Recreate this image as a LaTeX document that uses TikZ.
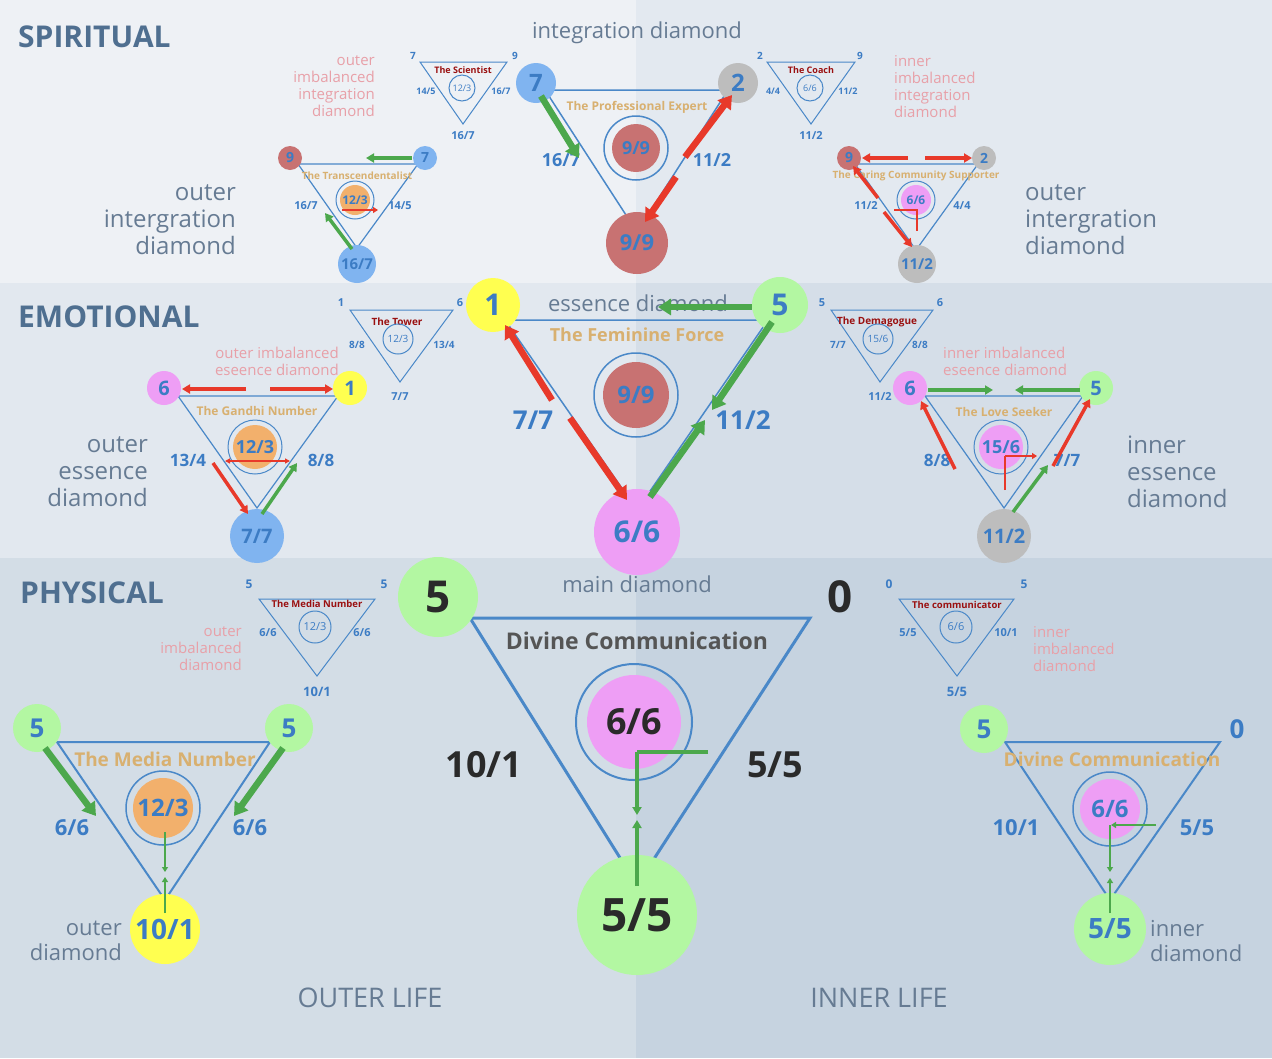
\documentclass[tikz,border=0pt]{standalone}
\usepackage{fontspec}
\setmainfont{Open Sans}
\usetikzlibrary{arrows.meta}
\definecolor{bgSa}{HTML}{EEF1F5}\definecolor{bgSb}{HTML}{E3E9F0}
\definecolor{bgEa}{HTML}{E2E8EF}\definecolor{bgEb}{HTML}{D5DEE8}
\definecolor{bgPa}{HTML}{D3DDE6}\definecolor{bgPb}{HTML}{C6D3E0}
\definecolor{tblue}{HTML}{3C7CC4}\definecolor{lblue}{HTML}{4A88C8}
\definecolor{secc}{HTML}{4F6F90}\definecolor{grayt}{HTML}{667B93}
\definecolor{pinkt}{HTML}{E8A0A8}\definecolor{tan}{HTML}{D8B070}
\definecolor{dred}{HTML}{9A1010}\definecolor{grn}{HTML}{4CA84C}
\definecolor{rd}{HTML}{E8392A}\definecolor{cgreen}{HTML}{B3F7A2}
\definecolor{cyel}{HTML}{FFFF50}\definecolor{cblue}{HTML}{80B4F0}
\definecolor{cgray}{HTML}{BDBDBD}\definecolor{cred}{HTML}{C87272}
\definecolor{cpink}{HTML}{EE9EF5}\definecolor{corange}{HTML}{F2B06C}
\definecolor{dark}{HTML}{2A2A2A}\definecolor{dgray}{HTML}{555555}
\newcommand\fsz[1]{\fontsize{#1}{#1}\selectfont}
\tikzset{
 tri/.style={draw=lblue,line width=1pt},
 btri/.style={draw=lblue,line width=2pt},
 ring/.style={draw=lblue,line width=1pt},
 dot/.style={circle,inner sep=0pt,font=\bfseries,text=tblue},
 lab/.style={text=tblue,font=\bfseries,inner sep=0pt},
 sect/.style={text=secc,font=\bfseries\fsz{30},anchor=west,inner sep=0pt},
 gtxt/.style={text=grayt,font=\fsz{24},inner sep=0pt,align=right},
 ptxt/.style={text=pinkt,font=\fsz{15},inner sep=0pt},
 ttl/.style={text=tan,font=\bfseries,inner sep=0pt},
 stl/.style={text=dred,font=\bfseries\fsz{9},inner sep=0pt},
 garr/.style={draw=grn,line width=6.5pt,-{Triangle[length=13pt,width=16pt]}},
 rarr/.style={draw=rd,line width=6.5pt,-{Triangle[length=13pt,width=16pt]}},
 gth/.style={draw=grn,line width=3.5pt,-{Triangle[length=8pt,width=9pt]}},
 rth/.style={draw=rd,line width=3.5pt,-{Triangle[length=8pt,width=9pt]}},
 gtn/.style={draw=grn,line width=2pt,-{Triangle[length=5pt,width=6pt]}},
 rtn/.style={draw=rd,line width=1.5pt,-{Triangle[length=5pt,width=6pt]}},
}
\begin{document}
\begin{tikzpicture}[x=1pt,y=-1pt]
\useasboundingbox (0,0) rectangle (1272,1058);
% backgrounds
\fill[bgSa] (0,0) rectangle (636,283); \fill[bgSb] (636,0) rectangle (1272,283);
\fill[bgEa] (0,283) rectangle (636,558); \fill[bgEb] (636,283) rectangle (1272,558);
\fill[bgPa] (0,558) rectangle (636,1058); \fill[bgPb] (636,558) rectangle (1272,1058);
% section titles
\node[sect] (sS) at (18,37) {SPIRITUAL};
\node[sect] (sE) at (18,317) {EMOTIONAL};
\node[sect] (sP) at (20,593) {PHYSICAL};
\node[text=grayt,font=\fsz{27}] (ol) at (370,998) {OUTER LIFE};
\node[text=grayt,font=\fsz{27}] (il) at (879,998) {INNER LIFE};

% ===== SPIRITUAL main =====
\node[text=grayt,font=\fsz{22}] (t1) at (637,33) {integration diamond};
\draw[tri,line width=1.5pt] (545,90) -- (728,90) -- (637,232) -- cycle;
\node[ttl,font=\bfseries\fsz{12}] (t2) at (637,107) {The Professional Expert};
\node[dot,fill=cred,minimum size=48pt] (s99) at (636,148) {}; \node[lab,font=\bfseries\fsz{18}] at (s99) {9/9};
\draw[ring,line width=1.5pt] (636,148) circle (32);
\node[dot,fill=cblue,minimum size=40pt,font=\bfseries\fsz{24}] (s7) at (536,83) {7};
\node[dot,fill=cgray,minimum size=40pt,font=\bfseries\fsz{24}] (s2) at (738,83) {2};
\node[dot,fill=cred,minimum size=62pt,font=\bfseries\fsz{22}] (sb) at (637,243) {9/9};
\node[lab,font=\bfseries\fsz{18}] (l1) at (561,160) {16/7};
\node[lab,font=\bfseries\fsz{18}] (l2) at (712,160) {11/2};
\draw[garr] (541,96) -- (579,158);
\draw[rarr] (685,157) -- (732,95);
\draw[rarr] (676,177) -- (645,222);

% Scientist
\draw[tri] (420,62) -- (507,62) -- (463,124) -- cycle;
\node[lab,font=\bfseries\fsz{10}] (a1) at (413,56) {7}; \node[lab,font=\bfseries\fsz{10}] (a2) at (515,56) {9};
\node[lab,font=\bfseries\fsz{9}] (a3) at (426,91) {14/5}; \node[lab,font=\bfseries\fsz{9}] (a4) at (501,91) {16/7};
\node[lab,font=\bfseries\fsz{11}] (a5) at (463,136) {16/7};
\node[stl] (a6) at (463,70) {The Scientist};
\draw[ring] (462,88) circle (13); \node[lab,font=\fsz{9}] (a7) at (462,88) {12/3};
% Coach
\draw[tri] (767,62) -- (855,62) -- (811,124) -- cycle;
\node[lab,font=\bfseries\fsz{10}] (b1) at (760,56) {2}; \node[lab,font=\bfseries\fsz{10}] (b2) at (860,56) {9};
\node[lab,font=\bfseries\fsz{9}] (b3) at (773,91) {4/4}; \node[lab,font=\bfseries\fsz{9}] (b4) at (848,91) {11/2};
\node[lab,font=\bfseries\fsz{11}] (b5) at (811,136) {11/2};
\node[stl] (b6) at (811,70) {The Coach};
\draw[ring] (810,88) circle (13); \node[lab,font=\fsz{9}] (b7) at (810,88) {6/6};
% pink texts spiritual
\node[ptxt,align=right,anchor=north east] (p1) at (375,55) {outer\\[2pt]imbalanced\\[2pt]integration\\[2pt]diamond};
\node[ptxt,align=left,anchor=north west] (p2) at (894,55) {inner\\[2pt]imbalanced\\[2pt]integration\\[2pt]diamond};
\node[gtxt,align=right,anchor=east] (g1) at (236,220) {outer\\[3pt]intergration\\[3pt]diamond};
\node[gtxt,align=left,anchor=west] (g2) at (1025,220) {outer\\[3pt]intergration\\[3pt]diamond};

% Transcendentalist
\draw[tri,line width=1.2pt] (298,164) -- (418,164) -- (357,248) -- cycle;
\node[dot,fill=corange,minimum size=30pt] (c1) at (355,200) {}; \node[lab,font=\bfseries\fsz{12}] at (c1) {12/3};
\draw[ring] (355,200) circle (19);
\node[ttl,font=\bfseries\fsz{10}] (c2) at (357,176) {The Transcendentalist};
\node[dot,fill=cred,minimum size=24pt,font=\bfseries\fsz{14}] (c3) at (290,158) {9};
\node[dot,fill=cblue,minimum size=24pt,font=\bfseries\fsz{14}] (c4) at (425,158) {7};
\node[dot,fill=cblue,minimum size=38pt,font=\bfseries\fsz{15}] (c5) at (357,264) {16/7};
\node[lab,font=\bfseries\fsz{11}] (c6) at (306,206) {16/7}; \node[lab,font=\bfseries\fsz{11}] (c7) at (400,206) {14/5};
\draw[gth] (412,158) -- (366,158);
\draw[gth] (352,249) -- (325,213);
\draw[rtn] (342,210) -- (378,210);
% Caring community supporter
\draw[tri,line width=1.2pt] (855,164) -- (978,164) -- (916,250) -- cycle;
\node[dot,fill=cpink,minimum size=30pt] (d1) at (916,200) {}; \node[lab,font=\bfseries\fsz{12}] at (d1) {6/6};
\draw[ring] (916,200) circle (19);
\node[ttl,font=\bfseries\fsz{10}] (d2) at (916,176) {The Caring Community Supporter};
\node[dot,fill=cred,minimum size=24pt,font=\bfseries\fsz{14}] (d3) at (849,158) {9};
\node[dot,fill=cgray,minimum size=24pt,font=\bfseries\fsz{14}] (d4) at (984,158) {2};
\node[dot,fill=cgray,minimum size=38pt,font=\bfseries\fsz{15}] (d5) at (917,264) {11/2};
\node[lab,font=\bfseries\fsz{11}] (d6) at (866,206) {11/2}; \node[lab,font=\bfseries\fsz{11}] (d7) at (962,206) {4/4};
\draw[rth] (908,158) -- (862,158); \draw[rth] (925,158) -- (972,158);
\draw[rth] (878,198) -- (853,166); \draw[rth] (884,212) -- (912,247);
\draw[draw=rd,line width=1.5pt] (894,210) -- (917,210) -- (917,231);

% ===== EMOTIONAL main =====
\draw[tri,line width=1.5pt] (505,320) -- (768,320) -- (637,510) -- cycle;
\node[text=grayt,font=\fsz{22}] (e1) at (638,303) {essence diamond};
\node[ttl,font=\bfseries\fsz{18}] (e2) at (637,335) {The Feminine Force};
\node[dot,fill=cred,minimum size=66pt] (e3) at (636,395) {}; \node[lab,font=\bfseries\fsz{24}] at (e3) {9/9};
\draw[ring,line width=1.5pt] (636,395) circle (42);
\node[dot,fill=cyel,minimum size=54pt,font=\bfseries\fsz{30}] (e4) at (493,305) {1};
\node[dot,fill=cgreen,minimum size=56pt,font=\bfseries\fsz{30}] (e5) at (780,305) {5};
\node[dot,fill=cpink,minimum size=86pt,font=\bfseries\fsz{30}] (e6) at (637,532) {6/6};
\node[lab,font=\bfseries\fsz{26}] (e7) at (533,420) {7/7};
\node[lab,font=\bfseries\fsz{26}] (e8) at (743,420) {11/2};
\draw[garr] (752,307) -- (658,307);
\draw[rarr] (552,400) -- (505,325);
\draw[rarr] (570,418) -- (627,500);
\draw[garr] (772,322) -- (712,410);
\draw[garr] (650,497) -- (705,420);
% Tower
\draw[tri] (350,310) -- (453,310) -- (400,382) -- cycle;
\node[lab,font=\bfseries\fsz{11}] (f1) at (341,303) {1}; \node[lab,font=\bfseries\fsz{11}] (f2) at (460,303) {6};
\node[lab,font=\bfseries\fsz{10}] (f3) at (357,345) {8/8}; \node[lab,font=\bfseries\fsz{10}] (f4) at (444,345) {13/4};
\node[lab,font=\bfseries\fsz{11}] (f5) at (400,397) {7/7};
\node[stl,font=\bfseries\fsz{10}] (f6) at (397,322) {The Tower};
\draw[ring] (398,339) circle (15); \node[lab,font=\fsz{10}] (f7) at (398,339) {12/3};
% Demagogue
\draw[tri] (831,310) -- (933,310) -- (880,382) -- cycle;
\node[lab,font=\bfseries\fsz{11}] (h1) at (822,303) {5}; \node[lab,font=\bfseries\fsz{11}] (h2) at (940,303) {6};
\node[lab,font=\bfseries\fsz{10}] (h3) at (838,345) {7/7}; \node[lab,font=\bfseries\fsz{10}] (h4) at (920,345) {8/8};
\node[lab,font=\bfseries\fsz{11}] (h5) at (880,397) {11/2};
\node[stl,font=\bfseries\fsz{10}] (h6) at (877,322) {The Demagogue};
\draw[ring] (878,339) circle (15); \node[lab,font=\fsz{10}] (h7) at (878,339) {15/6};
% pink / gray emotional
\node[ptxt,align=right,anchor=east] (p3) at (339,361) {outer imbalanced\\[2pt]eseence diamond};
\node[ptxt,align=left,anchor=west] (p4) at (943,361) {inner imbalanced\\[2pt]eseence diamond};
\node[gtxt,align=right,anchor=east] (g3) at (148,472) {outer\\[3pt]essence\\[3pt]diamond};
\node[gtxt,align=left,anchor=west] (g4) at (1127,472) {inner\\[3pt]essence\\[3pt]diamond};
% Gandhi
\draw[tri,line width=1.2pt] (178,396) -- (338,396) -- (257,508) -- cycle;
\node[dot,fill=corange,minimum size=44pt] (i1) at (255,447) {}; \node[lab,font=\bfseries\fsz{18}] at (i1) {12/3};
\draw[ring] (255,447) circle (27);
\node[ttl,font=\bfseries\fsz{12}] (i2) at (257,411) {The Gandhi Number};
\node[dot,fill=cpink,minimum size=34pt,font=\bfseries\fsz{20}] (i3) at (164,388) {6};
\node[dot,fill=cyel,minimum size=34pt,font=\bfseries\fsz{20}] (i4) at (350,388) {1};
\node[dot,fill=cblue,minimum size=54pt,font=\bfseries\fsz{20}] (i5) at (257,536) {7/7};
\node[lab,font=\bfseries\fsz{17}] (i6) at (188,460) {13/4}; \node[lab,font=\bfseries\fsz{17}] (i7) at (321,460) {8/8};
\draw[rth] (246,389) -- (182,389); \draw[rth] (270,389) -- (333,389);
\draw[draw=rd,line width=1.5pt,{Triangle[length=5pt,width=5pt]}-{Triangle[length=5pt,width=5pt]}] (225,461) -- (290,461);
\draw[rth] (213,463) -- (248,514);
\draw[gth] (262,514) -- (297,463);
% Love Seeker
\draw[tri,line width=1.2pt] (925,396) -- (1083,396) -- (1004,508) -- cycle;
\node[dot,fill=cpink,minimum size=44pt] (j1) at (1001,447) {}; \node[lab,font=\bfseries\fsz{18}] at (j1) {15/6};
\draw[ring] (1001,447) circle (27);
\node[ttl,font=\bfseries\fsz{12}] (j2) at (1004,412) {The Love Seeker};
\node[dot,fill=cpink,minimum size=34pt,font=\bfseries\fsz{20}] (j3) at (910,388) {6};
\node[dot,fill=cgreen,minimum size=34pt,font=\bfseries\fsz{20}] (j4) at (1096,388) {5};
\node[dot,fill=cgray,minimum size=54pt,font=\bfseries\fsz{20}] (j5) at (1004,536) {11/2};
\node[lab,font=\bfseries\fsz{17}] (j6) at (937,460) {8/8}; \node[lab,font=\bfseries\fsz{17}] (j7) at (1067,460) {7/7};
\draw[gth] (928,390) -- (993,390); \draw[gth] (1080,390) -- (1015,390);
\draw[rth] (955,469) -- (921,401);
\draw[rth] (1053,466) -- (1090,399);
\draw[gth] (1013,512) -- (1048,465);
\draw[draw=rd,line width=1.5pt] (1005,490) -- (1005,456);
\draw[rtn] (1005,456) -- (1037,456);

% ===== PHYSICAL main =====
\node[text=grayt,font=\fsz{22}] (m1) at (637,584) {main diamond};
\draw[btri,line width=3pt] (470,618) -- (810,618) -- (637,885) -- cycle;
\node[text=dgray,font=\bfseries\fsz{23}] (m2) at (637,641) {Divine Communication};
\node[dot,fill=cpink,minimum size=94pt] (m3) at (634,722) {}; \node[text=dark,font=\bfseries\fsz{36}] at (m3) {6/6};
\draw[ring,line width=2pt] (634,722) circle (58);
\node[dot,fill=cgreen,minimum size=80pt,text=dark,font=\bfseries\fsz{44}] (m4) at (438,597) {5};
\node[text=dark,font=\bfseries\fsz{44},inner sep=0pt] (m5) at (840,597) {0};
\node[dot,fill=cgreen,minimum size=120pt,text=dark,font=\bfseries\fsz{46}] (m6) at (637,915) {5/5};
\node[text=dark,font=\bfseries\fsz{36},inner sep=0pt] (m7) at (484,765) {10/1};
\node[text=dark,font=\bfseries\fsz{36},inner sep=0pt] (m8) at (775,765) {5/5};
\draw[draw=grn,line width=4pt] (708,752) -- (637,752);
\draw[gth] (637,752) -- (637,815);
\draw[gth,line width=4pt] (637,886) -- (637,820);
% Media small
\draw[tri] (259,599) -- (375,599) -- (317,676) -- cycle;
\node[lab,font=\bfseries\fsz{12}] (n1) at (249,584) {5}; \node[lab,font=\bfseries\fsz{12}] (n2) at (384,584) {5};
\node[lab,font=\bfseries\fsz{11}] (n3) at (268,633) {6/6}; \node[lab,font=\bfseries\fsz{11}] (n4) at (362,633) {6/6};
\node[lab,font=\bfseries\fsz{13}] (n5) at (317,692) {10/1};
\node[stl,font=\bfseries\fsz{9.5}] (n6) at (317,604) {The Media Number};
\draw[ring] (315,627) circle (16); \node[lab,font=\fsz{11}] (n7) at (315,627) {12/3};
% Communicator small
\draw[tri] (899,599) -- (1014,599) -- (957,676) -- cycle;
\node[lab,font=\bfseries\fsz{12}] (o1) at (889,584) {0}; \node[lab,font=\bfseries\fsz{12}] (o2) at (1024,584) {5};
\node[lab,font=\bfseries\fsz{11}] (o3) at (908,633) {5/5}; \node[lab,font=\bfseries\fsz{11}] (o4) at (1006,633) {10/1};
\node[lab,font=\bfseries\fsz{13}] (o5) at (957,692) {5/5};
\node[stl,font=\bfseries\fsz{9.5}] (o6) at (957,605) {The communicator};
\draw[ring] (956,627) circle (16); \node[lab,font=\fsz{11}] (o7) at (956,627) {6/6};
% pink physical
\node[ptxt,align=right,anchor=east] (p5) at (242,649) {outer\\[2pt]imbalanced\\[2pt]diamond};
\node[ptxt,align=left,anchor=west] (p6) at (1033,649) {inner\\[2pt]imbalanced\\[2pt]diamond};
% Media Number big
\draw[btri] (57,742) -- (270,742) -- (165,900) -- cycle;
\node[dot,fill=corange,minimum size=60pt] (q1) at (163,808) {}; \node[lab,font=\bfseries\fsz{24}] at (q1) {12/3};
\draw[ring,line width=1.5pt] (163,808) circle (37);
\node[ttl,font=\bfseries\fsz{19}] (q2) at (165,759) {The Media Number};
\node[dot,fill=cgreen,minimum size=48pt,font=\bfseries\fsz{26}] (q3) at (37,728) {5};
\node[dot,fill=cgreen,minimum size=48pt,font=\bfseries\fsz{26}] (q4) at (289,728) {5};
\node[dot,fill=cyel,minimum size=70pt,font=\bfseries\fsz{28}] (q5) at (165,929) {10/1};
\node[lab,font=\bfseries\fsz{22}] (q6) at (72,828) {6/6}; \node[lab,font=\bfseries\fsz{22}] (q7) at (250,828) {6/6};
\draw[garr] (45,748) -- (96,816); \draw[garr] (283,748) -- (234,816);
\draw[gtn] (165,832) -- (165,872); \draw[gtn] (165,913) -- (165,877);
\node[gtxt,align=right,anchor=east,font=\fsz{22}] (g5) at (122,941) {outer\\[3pt]diamond};
% Inner diamond big
\draw[btri] (1005,742) -- (1220,742) -- (1110,900) -- cycle;
\node[dot,fill=cpink,minimum size=60pt] (r1) at (1110,809) {}; \node[lab,font=\bfseries\fsz{24}] at (r1) {6/6};
\draw[ring,line width=1.5pt] (1110,809) circle (37);
\node[ttl,font=\bfseries\fsz{19}] (r2) at (1112,759) {Divine Communication};
\node[dot,fill=cgreen,minimum size=48pt,font=\bfseries\fsz{26}] (r3) at (984,729) {5};
\node[lab,font=\bfseries\fsz{26}] (r4) at (1237,729) {0};
\node[dot,fill=cgreen,minimum size=72pt,font=\bfseries\fsz{28}] (r5) at (1110,929) {5/5};
\node[lab,font=\bfseries\fsz{22}] (r6) at (1016,828) {10/1}; \node[lab,font=\bfseries\fsz{22}] (r7) at (1197,828) {5/5};
\draw[gtn] (1156,825) -- (1111,825);
\draw[gtn] (1110,825) -- (1110,872); \draw[gtn] (1110,913) -- (1110,878);
\node[gtxt,align=left,anchor=west,font=\fsz{22}] (g6) at (1150,941) {inner\\[3pt]diamond};
\end{tikzpicture}
\end{document}
